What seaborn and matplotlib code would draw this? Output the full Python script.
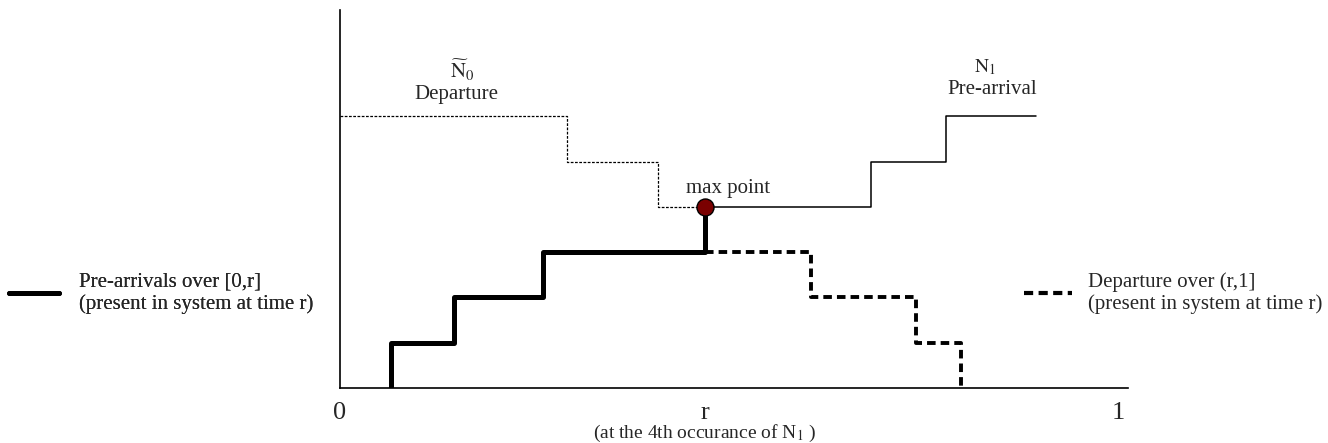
"""
Step-function sketch: pre-arrivals vs departures around the max point r.
"""

import matplotlib.pyplot as plt
from matplotlib.lines import Line2D
import pandas as pd
import seaborn as sns

# -- Data -----------------------------------------------------------------------
# x on the [0, 1] time axis, y in unit steps (number of customers)
R_POS = 0.469

pre_x = [0.066, 0.066, 0.147, 0.261, R_POS]   # thick solid, pre-arrivals over [0,r]
pre_y = [0, 1, 2, 3, 4]

dep_x = [R_POS, 0.605, 0.740, 0.798]           # thick dashed, departures over (r,1]
dep_y = [3, 2, 1, 0]

n1_x = [R_POS, 0.683, 0.779, 0.895]            # thin solid, N1 pre-arrival
n1_y = [4, 5, 6, 6]

n0_x = [0.0, 0.292, 0.409, R_POS]              # thin dotted, N0~ departure
n0_y = [6, 5, 4, 4]

max_x = [R_POS]
max_y = [4]

tick_pos = [0, R_POS, 1]
tick_labels = ["0", "r", "1"]

# -- Style ----------------------------------------------------------------------
sns.set_theme(style="white")
plt.rcParams["font.family"] = ["Liberation Serif", "DejaVu Serif"]
plt.rcParams["mathtext.fontset"] = "stix"
FS = 15

W, H = 1328, 443
fig = plt.figure(figsize=(W / 100, H / 100), dpi=100)
# axis frame: x 0 -> px 340, 1 -> px 1118; y step = 45.3 px, baseline px 388
ax = fig.add_axes([340 / W, (H - 388) / H, 788 / W, 378 / H])
ax.set_xlim(0, 788 / 778)
ax.set_ylim(0, 378 / 45.3)


def steps(x, y, **kw):
    df = pd.DataFrame({"x": x, "y": y})
    sns.lineplot(data=df, x="x", y="y", ax=ax, estimator=None, sort=False,
                 drawstyle="steps-post", **kw)


steps(n0_x, n0_y, color="black", linewidth=0.9, linestyle=(0, (2.2, 1.2)))
steps(n1_x, n1_y, color="black", linewidth=1.1)
steps(dep_x, dep_y, color="black", linewidth=2.8, linestyle=(0, (2.2, 1.3)))
steps(pre_x, pre_y, color="black", linewidth=3.6, solid_capstyle="butt")
sns.scatterplot(x=max_x, y=max_y, ax=ax, s=150, color="#7a0000",
                edgecolor="black", linewidth=1.0, zorder=5)

# labels on the curves
ax.text(0.157, 6.84, r"$\widetilde{\mathrm{N}}_0$", ha="center", va="baseline", fontsize=FS)
ax.text(0.150, 6.38, "Departure", ha="center", va="baseline", fontsize=FS)
ax.text(0.829, 6.97, r"$\mathrm{N}_1$", ha="center", va="baseline", fontsize=14)
ax.text(0.838, 6.49, "Pre-arrival", ha="center", va="baseline", fontsize=FS)
ax.text(0.499, 4.30, "max point", ha="center", va="baseline", fontsize=FS)

# axes look
sns.despine(ax=ax)
for side in ("left", "bottom"):
    ax.spines[side].set_color("black")
    ax.spines[side].set_linewidth(1.2)
ax.set_xticks(tick_pos)
ax.set_xticklabels(tick_labels, fontsize=19)
ax.tick_params(axis="x", length=0, pad=10)
ax.set_yticks([])
ax.set_xlabel(r"(at the 4th occurance of N$_1$ )", fontsize=14)
ax.xaxis.set_label_coords(R_POS / (788 / 778), -0.092)
ax.set_ylabel("")

# side legends
left = fig.legend(handles=[Line2D([], [], color="black", linewidth=3.6)],
                  labels=["Pre-arrivals over [0,r]\n(present in system at time r)"],
                  loc="center left", bbox_to_anchor=(9 / W, (H - 293) / H),
                  frameon=False, fontsize=FS, handlelength=2.4,
                  handletextpad=0.95, borderpad=0, borderaxespad=0)
fig.add_artist(left)
fig.legend(handles=[Line2D([], [], color="black", linewidth=3.0,
                           linestyle=(0, (2.2, 1.3)))],
           labels=["Departure over (r,1]\n(present in system at time r)"],
           loc="center left", bbox_to_anchor=(1024 / W, (H - 293) / H),
           frameon=False, fontsize=FS, handlelength=2.3,
           handletextpad=0.75, borderpad=0, borderaxespad=0)

fig.savefig("out.png", dpi=100)
